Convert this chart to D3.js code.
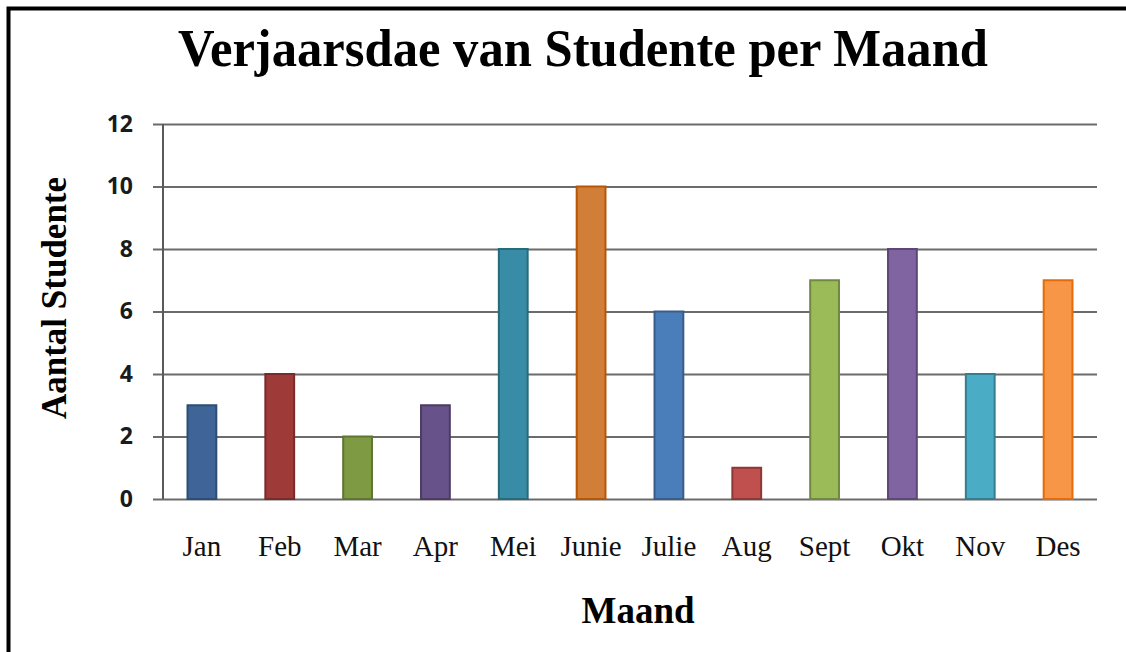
<!DOCTYPE html>
<html>
<head>
<meta charset="utf-8">
<script src="https://cdn.jsdelivr.net/npm/d3@7"></script>
<style>
  body { margin: 0; background: #fff; }
  svg { display: block; }
</style>
</head>
<body>
<svg width="1126" height="652"></svg>
<script>
// Data
var months = ["Jan", "Feb", "Mar", "Apr", "Mei", "Junie", "Julie", "Aug", "Sept", "Okt", "Nov", "Des"];
var counts = [3, 4, 2, 3, 8, 10, 6, 1, 7, 8, 4, 7];
var yTicks = [0, 2, 4, 6, 8, 10, 12];
var fills = ["#3f6497", "#9e3b39", "#7e9a42", "#67528a", "#388ca5", "#d07e38",
             "#4a7ebb", "#c0504d", "#9bbb59", "#8064a2", "#4bacc6", "#f79646"];
var strokes = ["#2c4d75", "#772c2a", "#5f7530", "#4d3b62", "#276a7c", "#b65708",
               "#385d8a", "#8c3836", "#71893f", "#5c4776", "#357d91", "#e46c0a"];

var svg = d3.select("svg");

var plotLeft = 163, plotRight = 1097, plotTop = 124, plotBottom = 499;
var serif = "'Liberation Serif', 'Times New Roman', serif";

var xScale = d3.scaleBand().domain(months).range([plotLeft, plotRight])
    .paddingInner(0.63).paddingOuter(0.315);
var yScale = d3.scaleLinear().domain([0, 12]).range([plotBottom, plotTop]);

// frame (top and left only)
svg.append("path")
    .attr("d", "M8.5,652 L8.5,8.5 L1126,8.5")
    .attr("fill", "none")
    .attr("stroke", "#000")
    .attr("stroke-width", 4);

// title
svg.append("text")
    .attr("x", 178).attr("y", 66)
    .attr("textLength", 810)
    .attr("lengthAdjust", "spacingAndGlyphs")
    .style("font-family", serif)
    .style("font-weight", "bold")
    .style("font-size", "53px")
    .text("Verjaarsdae van Studente per Maand");

// gridlines + y axis labels
var yAxis = d3.axisLeft(yScale).tickValues(yTicks).tickSize(10).tickPadding(30);
var gy = svg.append("g")
    .attr("transform", "translate(" + plotLeft + ",0)")
    .call(yAxis);
gy.select(".domain").remove();
gy.selectAll(".tick line")
    .attr("x1", -10).attr("x2", plotRight - plotLeft)
    .attr("stroke", "#6b6b6b")
    .attr("stroke-width", 2);
gy.selectAll(".tick text")
    .attr("x", -30)
    .attr("fill", "#1a1a1a")
    .style("font-family", "'Open Sans', sans-serif")
    .style("font-weight", "bold")
    .style("font-size", "23px");

// vertical axis line
svg.append("line")
    .attr("x1", plotLeft).attr("x2", plotLeft)
    .attr("y1", yScale(12)).attr("y2", yScale(0))
    .attr("stroke", "#5a5a5a")
    .attr("stroke-width", 2);

// bars
svg.selectAll(".bar")
    .data(counts)
    .enter().append("rect")
    .attr("class", "bar")
    .attr("x", function(d, i) { return xScale(months[i]); })
    .attr("y", function(d) { return yScale(d); })
    .attr("width", xScale.bandwidth())
    .attr("height", function(d) { return yScale(0) - yScale(d); })
    .attr("fill", function(d, i) { return fills[i]; })
    .attr("stroke", function(d, i) { return strokes[i]; })
    .attr("stroke-width", 2);

// x axis labels
var xAxis = d3.axisBottom(xScale).tickSize(0).tickPadding(0);
var gx = svg.append("g")
    .attr("transform", "translate(0," + plotBottom + ")")
    .call(xAxis);
gx.select(".domain").remove();
gx.selectAll(".tick text")
    .attr("dy", 0).attr("y", 57)
    .attr("fill", "#111")
    .style("font-family", serif)
    .style("font-size", "29px");

// axis titles
svg.append("text")
    .attr("x", 638).attr("y", 623)
    .attr("text-anchor", "middle")
    .style("font-family", serif)
    .style("font-weight", "bold")
    .style("font-size", "37px")
    .text("Maand");

svg.append("text")
    .attr("transform", "translate(66,298) rotate(-90)")
    .attr("text-anchor", "middle")
    .style("font-family", serif)
    .style("font-weight", "bold")
    .style("font-size", "35px")
    .text("Aantal Studente");
</script>
</body>
</html>
